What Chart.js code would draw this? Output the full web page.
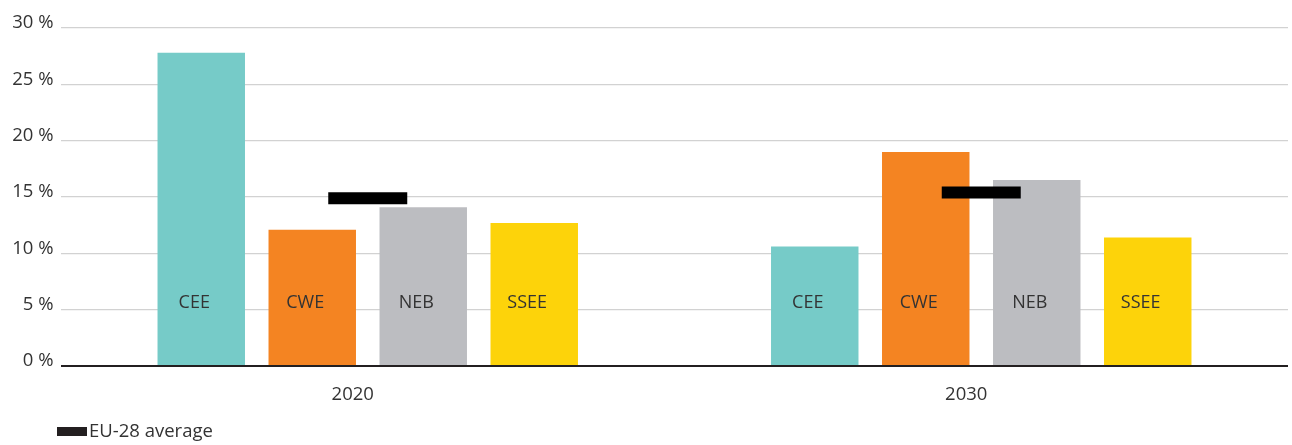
<!DOCTYPE html>
<html>
<head>
<meta charset="utf-8">
<script src="https://cdn.jsdelivr.net/npm/chart.js@4/dist/chart.umd.min.js"></script>
<style>
  html, body { margin: 0; padding: 0; background: #ffffff; }
  canvas { display: block; }
</style>
</head>
<body>
<canvas id="chart" width="1292" height="445"></canvas>
<script>
// Share of the year by region, per scenario year
const years = ['2020', '2030'];
const regionNames = ['CEE', 'CWE', 'NEB', 'SSEE'];
const ceeValues = [27.8, 10.6];
const cweValues = [12.1, 19.0];
const nebValues = [14.1, 16.5];
const sseeValues = [12.7, 11.4];
const euAverageValues = [14.9, 15.4];
const euAverageLabel = 'EU-28 average';
const yTickValues = [0, 5, 10, 15, 20, 25, 30];

const regionColors = ['#76cbc8', '#f48422', '#bcbdc1', '#fdd30a'];
const regionSeries = [ceeValues, cweValues, nebValues, sseeValues];

const FONT_FAMILY = '"Open Sans", "DejaVu Sans", sans-serif';
const TEXT_COLOR = '#333333';

Chart.defaults.font.family = FONT_FAMILY;
Chart.defaults.font.size = 18.5;
Chart.defaults.color = TEXT_COLOR;

// Writes each region's name inside its bar, near the base
const regionLabels = {
  id: 'regionLabels',
  afterDatasetsDraw(chart) {
    const ctx = chart.ctx;
    const base = chart.scales.y.getPixelForValue(0);
    ctx.save();
    ctx.font = '18px ' + FONT_FAMILY;
    ctx.fillStyle = TEXT_COLOR;
    ctx.textAlign = 'center';
    ctx.textBaseline = 'middle';
    chart.data.datasets.forEach((ds, i) => {
      if (ds.type === 'line') return;
      chart.getDatasetMeta(i).data.forEach(bar => {
        ctx.fillText(ds.label, bar.x - 7, base - 63);
      });
    });
    ctx.restore();
  }
};

// Single-entry key for the average marker, under the year labels
const averageKey = {
  id: 'averageKey',
  afterDraw(chart) {
    const ctx = chart.ctx;
    const ds = chart.data.datasets.find(d => d.type === 'line');
    ctx.save();
    ctx.fillStyle = ds.backgroundColor;
    ctx.fillRect(57, 427, 30, 9);
    ctx.font = '18.5px ' + FONT_FAMILY;
    ctx.fillStyle = TEXT_COLOR;
    ctx.textAlign = 'left';
    ctx.textBaseline = 'middle';
    ctx.fillText(ds.label, 89, 432);
    ctx.restore();
  }
};

const datasets = regionNames.map((name, i) => ({
  type: 'bar',
  label: name,
  data: regionSeries[i],
  backgroundColor: regionColors[i],
  borderWidth: 0,
  categoryPercentage: 0.7237,
  barPercentage: 0.788
}));

datasets.push({
  type: 'line',
  label: euAverageLabel,
  data: euAverageValues,
  showLine: false,
  pointStyle: 'line',
  pointRadius: 39.5,
  pointHoverRadius: 39.5,
  pointBorderWidth: 12,
  pointBorderColor: '#000000',
  borderColor: '#000000',
  backgroundColor: '#231f20',
  order: -1
});

new Chart(document.getElementById('chart'), {
  data: { labels: years, datasets },
  plugins: [regionLabels, averageKey],
  options: {
    responsive: false,
    animation: false,
    layout: { autoPadding: false, padding: { left: 0, right: 4, top: 28, bottom: 0 } },
    plugins: {
      tooltip: { enabled: false },
      legend: { display: false }
    },
    scales: {
      x: {
        offset: true,
        grid: { display: false, drawTicks: false },
        border: { display: false },
        ticks: { padding: 18, labelOffset: -15, color: TEXT_COLOR },
        afterFit: s => {
          s.height = 79;
          s.paddingLeft = 0;
          s.paddingRight = 0;
        }
      },
      y: {
        min: 0,
        max: 30,
        afterBuildTicks: s => { s.ticks = yTickValues.map(v => ({ value: v })); },
        grid: {
          drawTicks: false,
          color: c => (c.tick && c.tick.value === 0) ? '#231f20' : '#d2d2d2',
          lineWidth: c => (c.tick && c.tick.value === 0) ? 2 : 1.3
        },
        border: { display: false },
        ticks: {
          padding: 7.5,
          labelOffset: -5,
          color: TEXT_COLOR,
          callback: v => v + ' %'
        },
        afterFit: s => {
          s.width = 61;
          s.paddingTop = 0;
          s.paddingBottom = 0;
        }
      }
    }
  }
});
</script>
</body>
</html>
